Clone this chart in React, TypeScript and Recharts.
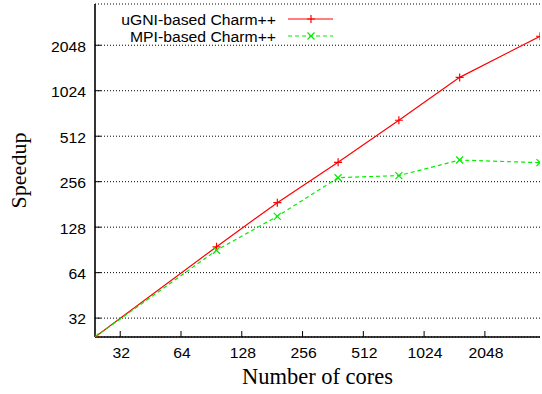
import { CartesianGrid, Line, LineChart, XAxis, YAxis } from "recharts";

const cores = [24, 96, 192, 384, 768, 1536, 3840];
const ugniSpeedup = [24, 95, 186, 344, 653, 1255, 2349];
const mpiSpeedup = [24, 90, 151, 272, 281, 356, 342];
const powerTicks = [32, 64, 128, 256, 512, 1024, 2048];
const axisRange = [24, 3840];

const data = cores.map((c, i) => ({ cores: c, ugni: ugniSpeedup[i], mpi: mpiSpeedup[i] }));

const RED = "#ff0000";
const GREEN = "#00ee00";
const SANS = "'Liberation Sans', Arial, Helvetica, sans-serif";
const SERIF = "'Liberation Serif', 'Times New Roman', serif";
const TICK = 6;

// Helvetica in the old postscript output runs a little wide, so stretch it
function WideText({ x, y, anchor, children, baseline }: any) {
  return (
    <text
      x={0}
      y={0}
      transform={`translate(${x} ${y}) scale(1.05 1)`}
      textAnchor={anchor}
      dominantBaseline={baseline}
      fontFamily={SANS}
      fontSize={15}
      fill="#000"
    >
      {children}
    </text>
  );
}

// gnuplot-style ticks: marks point into the plot, labels sit outside
function BottomTick({ x, y, payload }: any) {
  return (
    <g>
      <line x1={x} y1={y} x2={x} y2={y - TICK} stroke="#000" />
      <WideText x={x + 1} y={y + 21} anchor="middle">{payload.value}</WideText>
    </g>
  );
}
function TopTick({ x, y }: any) {
  return <line x1={x} y1={y} x2={x} y2={y + TICK} stroke="#000" />;
}
function LeftTick({ x, y, payload }: any) {
  return (
    <g>
      <line x1={x} y1={y} x2={x + TICK} y2={y} stroke="#000" />
      <WideText x={x - 9} y={y + 1} anchor="end" baseline="central">{payload.value}</WideText>
    </g>
  );
}
function RightTick({ x, y }: any) {
  return <line x1={x} y1={y} x2={x - TICK} y2={y} stroke="#000" />;
}

function PlusDot({ cx, cy }: any) {
  if (cx == null || cy == null) return null;
  return <path d={`M${cx - 4},${cy}H${cx + 4}M${cx},${cy - 4}V${cy + 4}`} stroke={RED} strokeWidth={1.2} fill="none" />;
}
function CrossDot({ cx, cy }: any) {
  if (cx == null || cy == null) return null;
  const r = 3.5;
  return (
    <path
      d={`M${cx - r},${cy - r}L${cx + r},${cy + r}M${cx - r},${cy + r}L${cx + r},${cy - r}`}
      stroke={GREEN}
      strokeWidth={1.2}
      fill="none"
    />
  );
}

function XTitle({ viewBox }: any) {
  const cx = viewBox.x + viewBox.width / 2;
  return (
    <text x={cx} y={viewBox.y + 47} textAnchor="middle" fontFamily={SERIF} fontSize={22.5} fill="#000">
      Number of cores
    </text>
  );
}
function YTitle({ viewBox }: any) {
  const cx = 18;
  const cy = viewBox.y + viewBox.height / 2;
  return (
    <text
      x={cx}
      y={cy}
      transform={`rotate(-90 ${cx} ${cy})`}
      textAnchor="middle"
      dominantBaseline="central"
      fontFamily={SERIF}
      fontSize={22}
      fill="#000"
    >
      Speedup
    </text>
  );
}

function KeyBox() {
  const rows = [
    { name: "uGNI-based Charm++", color: RED, dash: undefined, Dot: PlusDot, y: 19 },
    { name: "MPI-based Charm++", color: GREEN, dash: "4 3", Dot: CrossDot, y: 36 },
  ];
  return (
    <svg width={542} height={50} style={{ position: "absolute", left: 0, top: 0, pointerEvents: "none" }}>
      {rows.map(({ name, color, dash, Dot, y }) => (
        <g key={name}>
          <WideText x={276} y={y + 1} anchor="end" baseline="central">{name}</WideText>
          <line x1={288} y1={y} x2={333} y2={y} stroke={color} strokeWidth={1.2} strokeDasharray={dash} />
          <Dot cx={311} cy={y} />
        </g>
      ))}
    </svg>
  );
}

const frame = { stroke: "#000", strokeWidth: 1.6 };

export default function App() {
  return (
    <div style={{ position: "absolute", left: 0, top: 0, width: 542, height: 394, background: "#fff" }}>
      <LineChart width={542} height={394} data={data} margin={{ top: 4, right: 2, left: 0, bottom: 0 }}>
        <CartesianGrid vertical={false} stroke="#000" strokeDasharray="1 2" />
        <XAxis
          dataKey="cores"
          type="number"
          scale="log"
          domain={axisRange}
          allowDataOverflow
          ticks={powerTicks}
          interval={0}
          height={57}
          tickSize={0}
          tickMargin={0}
          tickLine={false}
          axisLine={frame}
          tick={<BottomTick />}
          label={{ content: <XTitle /> }}
        />
        <XAxis
          xAxisId="top"
          orientation="top"
          dataKey="cores"
          type="number"
          scale="log"
          domain={axisRange}
          allowDataOverflow
          ticks={powerTicks}
          interval={0}
          height={0}
          tickSize={0}
          tickMargin={0}
          tickLine={false}
          axisLine={frame}
          tick={<TopTick />}
        />
        <YAxis
          type="number"
          scale="log"
          domain={axisRange}
          allowDataOverflow
          ticks={powerTicks}
          interval={0}
          width={95}
          tickSize={0}
          tickMargin={0}
          tickLine={false}
          axisLine={frame}
          tick={<LeftTick />}
          label={{ content: <YTitle /> }}
        />
        <YAxis
          yAxisId="right"
          orientation="right"
          type="number"
          scale="log"
          domain={axisRange}
          allowDataOverflow
          ticks={powerTicks}
          interval={0}
          width={0}
          tickSize={0}
          tickMargin={0}
          tickLine={false}
          axisLine={frame}
          tick={<RightTick />}
        />
        <Line
          dataKey="ugni"
          stroke={RED}
          strokeWidth={1.2}
          dot={<PlusDot />}
          activeDot={false}
          isAnimationActive={false}
        />
        <Line
          dataKey="mpi"
          stroke={GREEN}
          strokeWidth={1.2}
          strokeDasharray="4 3"
          dot={<CrossDot />}
          activeDot={false}
          isAnimationActive={false}
        />
      </LineChart>
      <KeyBox />
    </div>
  );
}
